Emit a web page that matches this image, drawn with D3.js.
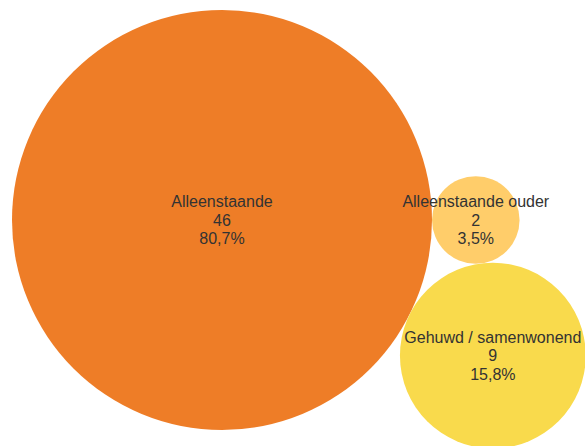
<!DOCTYPE html>
<html>
<head>
<meta charset="utf-8">
<script src="https://cdn.jsdelivr.net/npm/d3@7"></script>
<style>
  html, body { margin: 0; padding: 0; background: #fff; }
  svg { display: block; font-family: "Liberation Sans", Arial, sans-serif; }
</style>
</head>
<body>
<svg id="chart" width="585" height="446"></svg>
<script>
const categories = ["Alleenstaande", "Alleenstaande ouder", "Gehuwd / samenwonend"];
const counts = [46, 2, 9];
const shares = ["80,7%", "3,5%", "15,8%"];
const colors = ["#ee7d27", "#ffcd6a", "#f9da4c"];

const svg = d3.select("#chart");
const margin = { left: 12, top: 10 };

const r = d3.scaleSqrt().domain([0, d3.max(counts)]).range([0, 210]);

const nodes = categories.map((name, i) => ({
  name,
  value: counts[i],
  share: shares[i],
  color: colors[i],
  r: r(counts[i]),
}));

d3.packSiblings(nodes);

// keep the third bubble below the other two
if (nodes[2].y < nodes[0].y) nodes.forEach((d) => { d.y = -d.y; });

const big = nodes[0];
const tx = margin.left + big.r - big.x;
const ty = margin.top + big.r - big.y;

const g = svg.append("g").attr("transform", `translate(${tx},${ty})`);

g.selectAll("circle")
  .data(nodes)
  .join("circle")
  .attr("cx", (d) => d.x)
  .attr("cy", (d) => d.y)
  .attr("r", (d) => d.r)
  .attr("fill", (d) => d.color);

const lineH = 18.5;
const labels = g.selectAll("text.label")
  .data(nodes)
  .join("text")
  .attr("class", "label")
  .attr("text-anchor", "middle")
  .attr("font-size", 16)
  .attr("fill", "#333333");

labels.each(function (d) {
  const t = d3.select(this);
  [d.name, String(d.value), d.share].forEach((line, i) => {
    t.append("tspan")
      .attr("x", d.x)
      .attr("y", d.y + 5.5 + (i - 1) * lineH)
      .text(line);
  });
});
</script>
</body>
</html>
